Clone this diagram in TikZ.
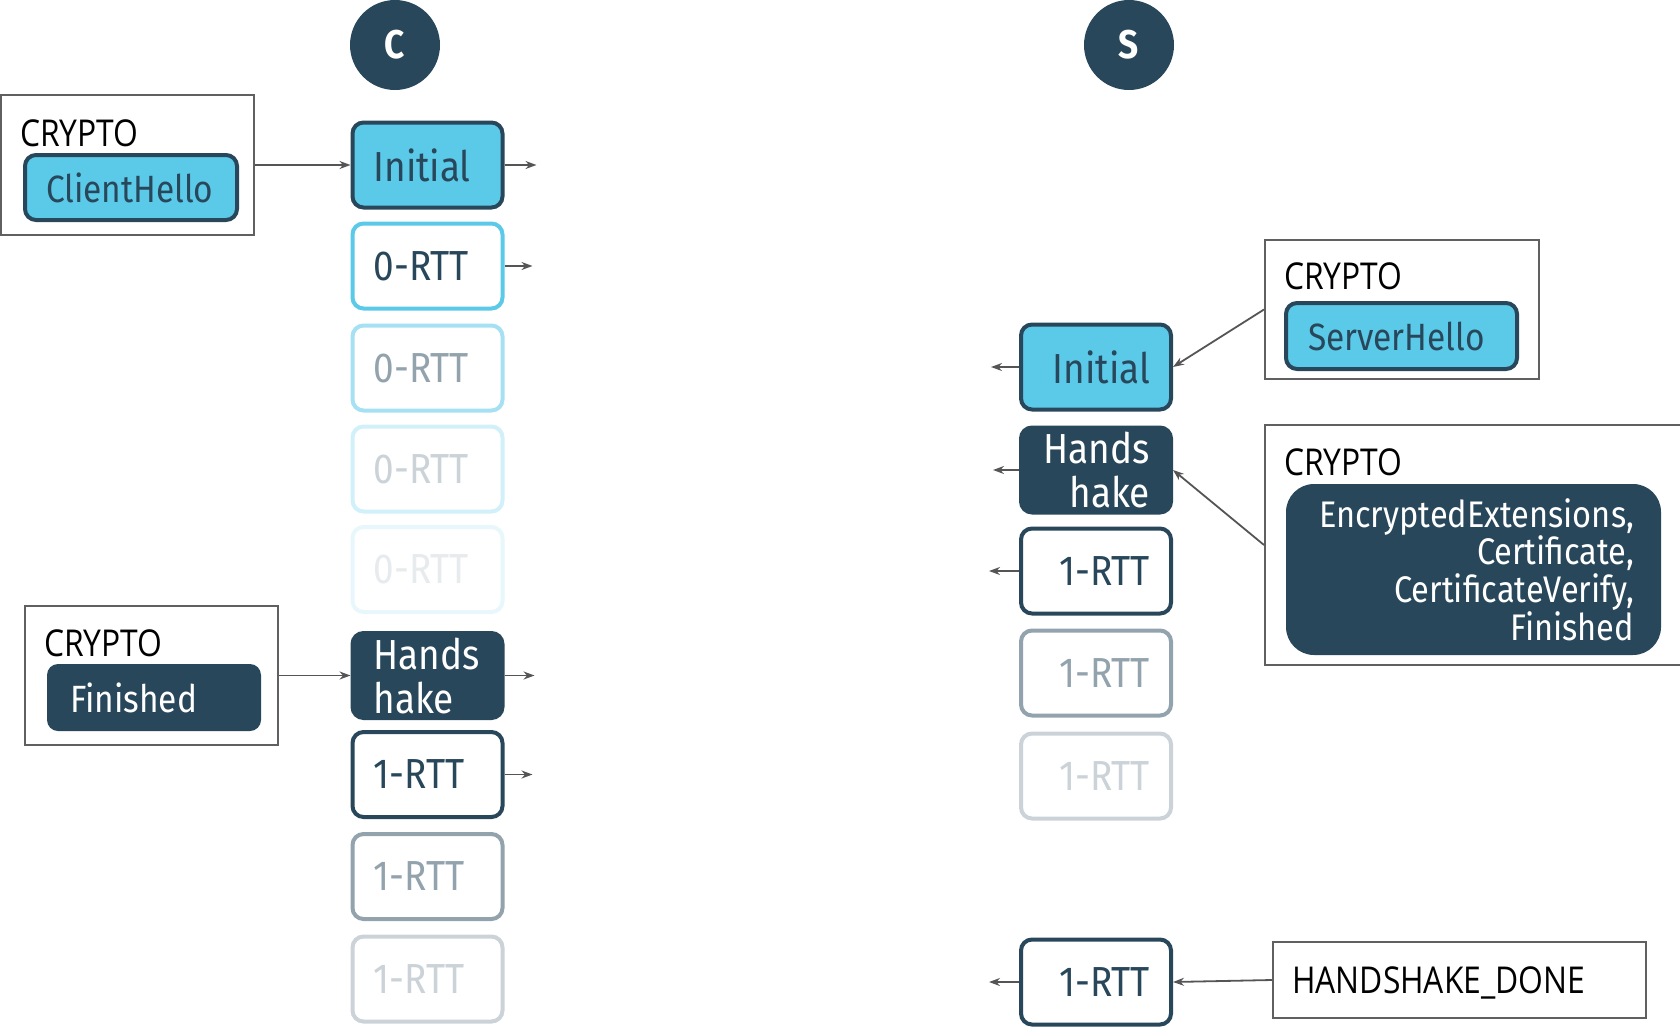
\documentclass[tikz,border=0pt]{standalone}
\usepackage{fontspec}
\setmainfont{Fira Sans}[FakeStretch=0.88]
\newfontfamily\plainfont{Open Sans}[FakeStretch=0.86]
\usetikzlibrary{arrows.meta,calc}

\definecolor{navy}{HTML}{28475B}
\definecolor{sky}{HTML}{5BC9E8}
\definecolor{framegray}{HTML}{606060}
\definecolor{arrowgray}{HTML}{555555}

\tikzset{
  pkt/.style={draw, line width=4pt, rounded corners=11pt,
    minimum width=150pt, minimum height=85pt,
    inner xsep=21pt, inner ysep=0pt, text width=108pt,
    font=\fontsize{42}{44}\selectfont, text=navy},
  cl/.style={pkt, align=left},
  sv/.style={pkt, align=right},
  initpkt/.style={fill=sky, draw=navy},
  hspkt/.style={fill=navy, draw=navy, text=white},
  rttpkt/.style={fill=white, draw=navy},
  frame/.style={draw=framegray, line width=2pt, inner sep=0pt},
  framelabel/.style={anchor=base west, inner sep=0pt, font=\plainfont\fontsize{37}{39}\selectfont, text=black},
  msg/.style={inner ysep=0pt, font=\fontsize{38}{40}\selectfont, rounded corners=11pt},
  arr/.style={draw=arrowgray, line width=1.8pt, -{Stealth[length=11pt,width=8pt]}},
  peer/.style={circle, fill=navy, minimum size=90pt, inner sep=0pt, text=white,
    font=\bfseries\fontsize{40}{40}\selectfont}
}

\begin{document}
\begin{tikzpicture}[x=1pt,y=-1pt]
\useasboundingbox (0,0) rectangle (1680,1028);
\clip (0,0) rectangle (1680,1028);

% endpoints
\node[peer] (cpeer) at (395,45) {C};
\node[peer] (speer) at (1129,45) {S};

% client packets
\node[cl, initpkt] (ci) at (427.5,165) {Initial};
\node[cl, rttpkt, draw=sky] (cz1) at (427.5,266) {0-RTT};
\node[cl, rttpkt, draw=sky!55, text=navy!50] (cz2) at (427.5,368) {0-RTT};
\node[cl, rttpkt, draw=sky!28, text=navy!24] (cz3) at (427.5,469) {0-RTT};
\node[cl, rttpkt, draw=sky!14, text=navy!11] (cz4) at (427.5,569.5) {0-RTT};
\node[cl, hspkt] (ch) at (427.5,675.5) {Hands\\hake};
\node[cl, rttpkt] (cr1) at (427.5,774.5) {1-RTT};
\node[cl, rttpkt, draw=navy!50, text=navy!50] (cr2) at (427.5,876.5) {1-RTT};
\node[cl, rttpkt, draw=navy!24, text=navy!24] (cr3) at (427.5,979) {1-RTT};

% server packets
\node[sv, initpkt] (si) at (1096,367) {Initial};
\node[sv, hspkt] (sh) at (1096,470) {Hands\\hake};
\node[sv, rttpkt] (sr1) at (1096,571) {1-RTT};
\node[sv, rttpkt, draw=navy!50, text=navy!50] (sr2) at (1096,673) {1-RTT};
\node[sv, rttpkt, draw=navy!24, text=navy!24] (sr3) at (1096,776) {1-RTT};
\node[sv, rttpkt] (sr4) at (1096,982) {1-RTT};

% client CRYPTO frames
\node[frame, minimum width=253pt, minimum height=140pt] (f1) at (127.5,165) {};
\node[framelabel] (f1l) at (20,146) {CRYPTO};
\node[msg, fill=sky, draw=navy, line width=4pt, minimum width=212pt, minimum height=65pt,
      inner xsep=21pt, text width=170pt, align=left, text=navy] (f1m) at (131,187.5) {ClientHello};

\node[frame, minimum width=253pt, minimum height=139pt] (f2) at (151.5,675.5) {};
\node[framelabel] (f2l) at (44,656) {CRYPTO};
\node[msg, fill=navy, minimum width=214pt, minimum height=67pt,
      inner xsep=23pt, text width=168pt, align=left, text=white] (f2m) at (154,697.5) {Finished};

% server CRYPTO frames
\node[frame, minimum width=274pt, minimum height=139pt] (f3) at (1402,309.5) {};
\node[framelabel] (f3l) at (1284,289) {CRYPTO};
\node[msg, fill=sky, draw=navy, line width=4pt, minimum width=231pt, minimum height=66pt,
      inner xsep=22pt, text width=187pt, align=left, text=navy] (f3m) at (1401.5,336) {ServerHello};

\node[frame, minimum width=440pt, minimum height=240pt] (f4) at (1485,545) {};
\node[framelabel] (f4l) at (1284,475) {CRYPTO};
\node[msg, fill=navy, rounded corners=28pt, minimum width=375pt, minimum height=171pt,
      inner xsep=27pt, text width=321pt, align=right, text=white,
      font=\fontsize{37}{37.7}\selectfont] (f4m) at (1473.5,569.5)
      {EncryptedExtensions,\\Certificate,\\CertificateVerify,\\Finished};

\node[frame, minimum width=373pt, minimum height=76pt] (f5) at (1459.5,980) {};
\node[framelabel] (f5l) at (1292,993) {HANDSHAKE\_DONE};

% frames into packets
\draw[arr] (f1.east) -- (ci.west);
\draw[arr] (f2.east) -- (ch.west);
\draw[arr] (f3.west) -- (si.east);
\draw[arr] (f4.west) -- (sh.east);
\draw[arr] (f5.west) -- (sr4.east);

% packets leaving the endpoints
\coordinate (oci) at ($(ci.east)+(32,0)$);
\coordinate (ocz) at ($(cz1.east)+(28,0)$);
\coordinate (och) at ($(ch.east)+(30,0)$);
\coordinate (ocr) at ($(cr1.east)+(28,0)$);
\coordinate (osi) at ($(si.west)+(-28,0)$);
\coordinate (osh) at ($(sh.west)+(-26,0)$);
\coordinate (osr) at ($(sr1.west)+(-30,0)$);
\coordinate (osf) at ($(sr4.west)+(-30,0)$);
\draw[arr] (ci.east) -- (oci);
\draw[arr] (cz1.east) -- (ocz);
\draw[arr] (ch.east) -- (och);
\draw[arr] (cr1.east) -- (ocr);
\draw[arr] (si.west) -- (osi);
\draw[arr] (sh.west) -- (osh);
\draw[arr] (sr1.west) -- (osr);
\draw[arr] (sr4.west) -- (osf);
\end{tikzpicture}
\end{document}
